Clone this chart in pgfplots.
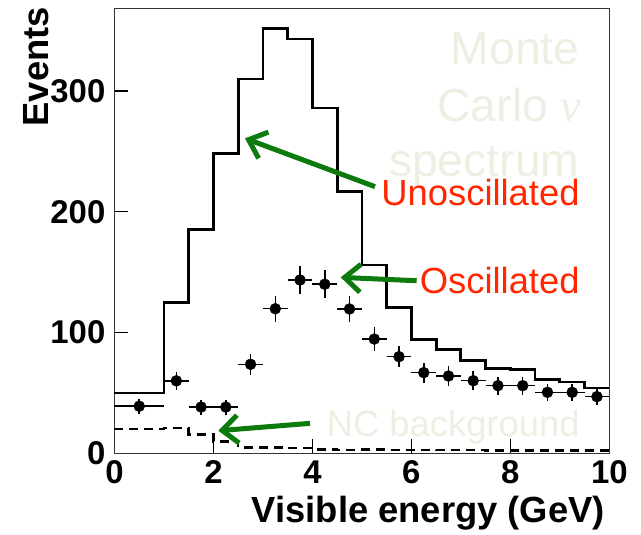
\documentclass[border=0pt]{standalone}
\usepackage{pgfplots}
\pgfplotsset{compat=1.18}
\usepackage{fontspec}
\setmainfont{Liberation Sans}
\newfontfamily\seriffont{Liberation Serif}
\usetikzlibrary{arrows.meta}
\definecolor{beige}{RGB}{238,238,226}
\definecolor{annred}{RGB}{255,38,0}
\definecolor{anngreen}{RGB}{12,122,12}
\begin{document}
\begin{tikzpicture}
\path[use as bounding box] (-114.5bp,-81.7bp) rectangle (526.5bp,453.3bp);
\begin{axis}[
  at={(0,0)}, anchor=south west,
  scale only axis, width=494.8bp, height=445bp,
  xmin=0, xmax=10, ymin=0, ymax=368.5,
  enlargelimits=false, clip=false,
  xtick={0,2,4,6,8,10}, ytick={0,100,200,300},
  xtick pos=bottom, ytick pos=left,
  tick align=inside, major tick length=14bp,
  tick style={line width=1.2bp, black},
  axis line style={line width=1.2bp, black!80},
  /pgf/number format/assume math mode=true,
  ticklabel style={font=\bfseries\fontsize{33}{33}\selectfont},
  xticklabel style={inner sep=0pt, anchor=north, yshift=-7bp},
  yticklabel style={inner sep=0pt, anchor=east, xshift=-9bp},
  xlabel={Visible energy (GeV)},
  ylabel={Events},
  label style={font=\bfseries\fontsize{36.5}{36.5}\selectfont, inner sep=0pt},
  xlabel style={at={(axis description cs:0.9913,-0.1566)}, anchor=base east},
  ylabel style={at={(axis description cs:-0.1324,1.003)}, anchor=base east},
]
% light annotations
\node[beige, anchor=base east, font=\fontsize{46.5}{46.5}\selectfont] at (axis cs:9.47,321.6) {Monte};
\node[beige, anchor=base east, font=\fontsize{46.5}{46.5}\selectfont] at (axis cs:9.51,274.6) {Carlo {\seriffont\itshape ν}};
\node[beige, anchor=base east, font=\fontsize{46.5}{46.5}\selectfont] at (axis cs:9.47,229.0) {spectrum};
\node[beige, anchor=base east, font=\fontsize{36.5}{36.5}\selectfont] at (axis cs:9.47,13.7) {NC background};

% Unoscillated MC histogram
\addplot[const plot, line width=2.8bp, black] coordinates {
(0,50) (0.5,50) (1,125) (1.5,185) (2,248) (2.5,310) (3,352) (3.5,343)
(4,286) (4.5,217) (5,156) (5.5,121) (6,94) (6.5,86) (7,77) (7.5,70)
(8,69.5) (8.5,61) (9,59) (9.5,54) (10,54)};

% NC background
\addplot[const plot, line width=2.6bp, black, dash pattern=on 9bp off 6bp] coordinates {
(0,20) (0.5,20) (1,21) (1.5,15.5) (2,9.6) (2.5,5) (3,4.7) (3.5,4.5)
(4,3) (4.5,2.8) (5,3) (5.5,2.8) (6,2.8) (6.5,2.6) (7,2.6) (7.5,2.5)
(8,2.5) (8.5,2.5) (9,2.4) (9.5,2.4) (10,2.4)};

% Oscillated data points
\addplot[only marks, mark=*, mark size=5.5bp, black,
  error bars/.cd, x dir=both, x explicit, y dir=both, y explicit,
  error mark=none, error bar style={line width=1.5bp, black}]
  table[x=x, y=y, x error=ex, y error=ey] {
x y ex ey
0.5 39 0.5 6.2
1.25 60 0.25 7.7
1.75 38.3 0.25 6.2
2.25 38.3 0.25 6.2
2.75 73.7 0.25 8.6
3.25 119.7 0.25 10.9
3.75 143.5 0.25 12.0
4.25 140 0.25 11.8
4.75 119.5 0.25 10.9
5.25 94.6 0.25 9.7
5.75 80 0.25 8.9
6.25 66.8 0.25 8.2
6.75 64 0.25 8.0
7.25 60.1 0.25 7.7
7.75 56 0.25 7.5
8.25 56 0.25 7.5
8.75 50.5 0.25 7.1
9.25 50.5 0.25 7.1
9.75 46.9 0.25 6.9
};

% red labels
\node[annred, anchor=base east, font=\fontsize{36.5}{36.5}\selectfont] at (axis cs:9.47,205.6) {Unoscillated};
\node[annred, anchor=base east, font=\fontsize{36.5}{36.5}\selectfont] at (axis cs:9.47,132.5) {Oscillated};

% green arrows
\draw[anngreen, line width=5bp, -{Straight Barb[length=16bp, width=28bp]}] (axis cs:5.265,220.8) -- (axis cs:2.637,260.8);
\draw[anngreen, line width=5bp, -{Straight Barb[length=16bp, width=28bp]}] (axis cs:6.107,142.9) -- (axis cs:4.572,145.7);
\draw[anngreen, line width=5bp, -{Straight Barb[length=16bp, width=28bp]}] (axis cs:3.951,24.8) -- (axis cs:2.098,18.7);
\end{axis}
\end{tikzpicture}
\end{document}
